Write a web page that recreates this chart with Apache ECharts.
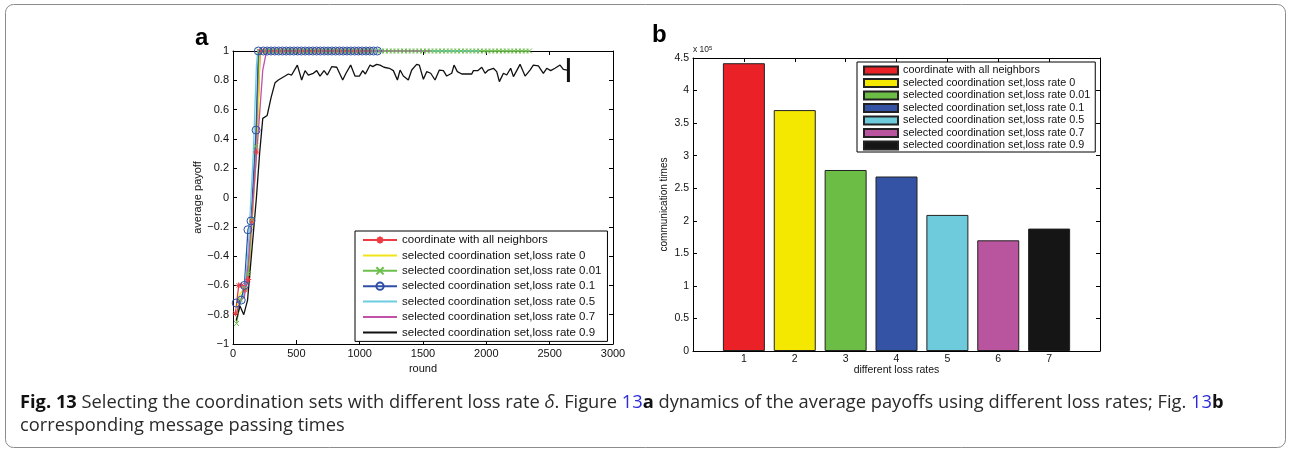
<!DOCTYPE html>
<html>
<head>
<meta charset="utf-8">
<script src="https://cdn.jsdelivr.net/npm/echarts@6/dist/echarts.min.js"></script>
<style>
  html, body { margin: 0; padding: 0; background: #fff; }
  #chart { width: 1291px; height: 451px; }
</style>
</head>
<body>
<div id="chart"></div>
<script>
// ---- panel a: average payoff per round ----
const lineNames = [
  'coordinate with all neighbors',
  'selected coordination set,loss rate 0',
  'selected coordination set,loss rate 0.01',
  'selected coordination set,loss rate 0.1',
  'selected coordination set,loss rate 0.5',
  'selected coordination set,loss rate 0.7',
  'selected coordination set,loss rate 0.9'
]

// rising part of each curve, [round, payoff]
const redRise = [[20, -0.79], [45, -0.60], [68, -0.60], [95, -0.63], [120, -0.56], [150, -0.16], [185, 0.31]]
const yellowRise = [[20, -0.80], [55, -0.66], [90, -0.62], [125, -0.50], [160, -0.05], [195, 0.45]]
const greenRise = [[28, -0.86], [60, -0.70], [90, -0.62], [120, -0.52], [150, -0.15], [180, 0.35]]
const blueRise = [[25, -0.72], [65, -0.70], [90, -0.60], [118, -0.22], [142, -0.16], [182, 0.46]]
const cyanRise = [[30, -0.76], [60, -0.72], [90, -0.65], [120, -0.35], [160, 0.30], [185, 0.90]]
const magentaRise = [[30, -0.78], [60, -0.70], [90, -0.68], [120, -0.45], [160, 0.0], [200, 0.45], [235, 0.87]]

// plateau at payoff 1: [first round, last round]
const redPlateau = [215, 1100]
const yellowPlateau = [212, 1100]
const greenPlateau = [205, 2350]
const bluePlateau = [200, 1140]
const cyanPlateau = [195, 1960]
const magentaPlateau = [265, 1560]

// rounds at which the plateau points were logged
const flatRounds = [240, 270, 300, 330, 360, 390, 420, 450, 480, 510, 540, 570, 600, 630, 660, 690,
  720, 750, 780, 810, 840, 870, 900, 930, 960, 990, 1020, 1050, 1080, 1110, 1140, 1170, 1200,
  1230, 1260, 1290, 1320, 1350, 1380, 1410, 1440, 1470, 1500, 1530, 1560, 1590, 1620, 1650,
  1680, 1710, 1740, 1770, 1800, 1830, 1860, 1890, 1920, 1950, 1980, 2010, 2040, 2070, 2100,
  2130, 2160, 2190, 2220, 2250, 2280, 2310, 2340]

// loss rate 0.9 never converges
const blackRounds = [25, 55, 85, 115, 140, 165, 185, 210, 235, 270, 300, 332, 358, 411, 437, 463, 508,
  542, 569, 595, 634, 661, 687, 719, 745, 779, 819, 866, 892, 929, 963, 998, 1024, 1045, 1082,
  1103, 1134, 1161, 1192, 1234, 1266, 1298, 1319, 1345, 1384, 1411, 1450, 1471, 1503, 1529,
  1561, 1595, 1629, 1661, 1687, 1727, 1745, 1771, 1806, 1845, 1885, 1898, 1932, 1964, 1990,
  2016, 2056, 2082, 2103, 2135, 2161, 2192, 2214, 2240, 2266, 2306, 2345, 2371, 2411, 2450,
  2477, 2508, 2542, 2582, 2608, 2640, 2648]
const blackPayoff = [-0.84, -0.74, -0.80, -0.70, -0.45, -0.20, 0.0, 0.30, 0.54, 0.56, 0.68, 0.784,
  0.802, 0.829, 0.843, 0.836, 0.904, 0.802, 0.866, 0.836, 0.848, 0.866, 0.829, 0.866, 0.836,
  0.893, 0.889, 0.802, 0.848, 0.904, 0.829, 0.829, 0.866, 0.843, 0.904, 0.893, 0.909, 0.904,
  0.889, 0.882, 0.866, 0.802, 0.870, 0.829, 0.802, 0.870, 0.909, 0.904, 0.807, 0.859, 0.848,
  0.802, 0.870, 0.866, 0.829, 0.848, 0.904, 0.859, 0.843, 0.843, 0.843, 0.866, 0.866, 0.889,
  0.848, 0.870, 0.882, 0.859, 0.791, 0.848, 0.836, 0.882, 0.825, 0.866, 0.909, 0.829, 0.870,
  0.904, 0.898, 0.848, 0.882, 0.866, 0.882, 0.904, 0.875, 0.870, 0.870]

// ---- panel b: communication times (x 10^5) ----
const lossRateIndex = [1, 2, 3, 4, 5, 6, 7]
const commTimes = [4.42, 3.70, 2.78, 2.68, 2.09, 1.70, 1.88]

const lineColors = ['#ee3b43', '#f3e31b', '#6dbf4b', '#2f4fa6', '#6ccde0', '#c050a8', '#111111']
const barColors = ['#ea2127', '#f5e800', '#6bbd45', '#3453a4', '#6ecbdc', '#b8559e', '#151515']
const FONT = 'Liberation Sans, Arial, sans-serif'
const CLEAR = 'rgba(0,0,0,0)'

function curve(rise, plateau) {
  const pts = rise.slice()
  pts.push([plateau[0], 1])
  flatRounds.forEach(r => { if (r > plateau[0] && r <= plateau[1]) pts.push([r, 1]) })
  return pts
}

const curves = [
  curve(redRise, redPlateau),
  curve(yellowRise, yellowPlateau),
  curve(greenRise, greenPlateau),
  curve(blueRise, bluePlateau),
  curve(cyanRise, cyanPlateau),
  curve(magentaRise, magentaPlateau)
]
const blackData = blackRounds.map((r, i) => [r, blackPayoff[i]])
// last logged point is drawn as a vertical bar
blackData[blackData.length - 1] = {
  value: blackData[blackData.length - 1], symbol: 'rect', symbolSize: [3, 24],
  itemStyle: { color: '#111', borderWidth: 0 }
}

const symbols = [
  'path://M0,5L10,5M5,0L5,10M1.5,1.5L8.5,8.5M8.5,1.5L1.5,8.5',
  null,
  'path://M0,0L10,10M10,0L0,10',
  'circle',
  null,
  null
]
const symbolSizes = [6, 0, 5, 8, 0, 0]

const lineSeries = curves.map((d, i) => ({
  name: lineNames[i],
  type: 'line',
  xAxisIndex: 0,
  yAxisIndex: 0,
  data: d,
  symbol: symbols[i] || 'circle',
  symbolSize: symbolSizes[i],
  showSymbol: !!symbols[i],
  clip: false,
  lineStyle: { color: lineColors[i], width: 1.3 },
  itemStyle: symbols[i]
    ? { color: CLEAR, borderColor: lineColors[i], borderWidth: 1 }
    : { color: CLEAR, borderColor: CLEAR, borderWidth: 0 },
  animation: false
}))
lineSeries.push({
  name: lineNames[6],
  type: 'line',
  xAxisIndex: 0,
  yAxisIndex: 0,
  data: blackData,
  symbol: 'circle',
  symbolSize: 0,
  showSymbol: true,
  clip: false,
  lineStyle: { color: lineColors[6], width: 1.3 },
  itemStyle: { color: CLEAR, borderColor: CLEAR, borderWidth: 0 },
  animation: false
})

const barSeries = lossRateIndex.map((x, i) => ({
  name: 'b:' + lineNames[i],
  type: 'bar',
  xAxisIndex: 2,
  yAxisIndex: 2,
  data: [[x, commTimes[i]]],
  barWidth: 42,
  barGap: '-100%',
  itemStyle: { color: barColors[i], borderColor: '#222', borderWidth: 1 },
  animation: false
}))

const tick = { inside: true, length: 4, lineStyle: { color: '#000', width: 1 } }
const axLine = { show: true, onZero: false, lineStyle: { color: '#000', width: 1 } }
const lbl = { color: '#111', fontFamily: FONT }
const nameStyle = size => ({ fontSize: size, color: '#111', fontFamily: FONT })

function fmtA(v) {
  const r = Math.round(v * 10) / 10
  return r < 0 ? '\u2212' + (-r) : String(r)
}

const chart = echarts.init(document.getElementById('chart'))
chart.setOption({
  backgroundColor: '#fff',
  animation: false,
  grid: [
    { left: 233, top: 51, width: 380, height: 293 },
    { left: 693, top: 58, width: 407, height: 293 }
  ],
  xAxis: [
    { gridIndex: 0, type: 'value', min: 0, max: 3000, interval: 500, position: 'bottom',
      axisLine: axLine, axisTick: tick, splitLine: { show: false },
      axisLabel: Object.assign({ fontSize: 11, margin: 4, formatter: v => String(v) }, lbl),
      name: 'round', nameLocation: 'middle', nameGap: 17, nameTextStyle: nameStyle(11) },
    { gridIndex: 0, type: 'value', min: 0, max: 3000, interval: 500, position: 'top',
      axisLine: axLine, axisTick: tick, splitLine: { show: false }, axisLabel: { show: false } },
    { gridIndex: 1, type: 'value', min: 0, max: 8, interval: 1, position: 'bottom',
      axisLine: axLine, axisTick: tick, splitLine: { show: false },
      axisLabel: Object.assign({ fontSize: 10.5, margin: 3,
        formatter: v => (v >= 1 && v <= 7 ? String(v) : '') }, lbl),
      name: 'different loss rates', nameLocation: 'middle', nameGap: 14, nameMoveOverlap: false,
      nameTextStyle: nameStyle(10.5) },
    { gridIndex: 1, type: 'value', min: 0, max: 8, interval: 1, position: 'top',
      axisLine: axLine, axisTick: tick, splitLine: { show: false }, axisLabel: { show: false } }
  ],
  yAxis: [
    { gridIndex: 0, type: 'value', min: -1, max: 1, interval: 0.2, position: 'left',
      axisLine: axLine, axisTick: tick, splitLine: { show: false },
      axisLabel: Object.assign({ fontSize: 11, margin: 4, formatter: fmtA }, lbl),
      name: 'average payoff', nameLocation: 'middle', nameGap: 30, nameRotate: 90,
      nameTextStyle: nameStyle(11) },
    { gridIndex: 0, type: 'value', min: -1, max: 1, interval: 0.2, position: 'right',
      axisLine: axLine, axisTick: tick, splitLine: { show: false }, axisLabel: { show: false } },
    { gridIndex: 1, type: 'value', min: 0, max: 4.5, interval: 0.5, position: 'left',
      axisLine: axLine, axisTick: tick, splitLine: { show: false },
      axisLabel: Object.assign({ fontSize: 10.5, margin: 4 }, lbl),
      name: 'communication times', nameLocation: 'middle', nameGap: 24, nameRotate: 90,
      nameTextStyle: nameStyle(10) },
    { gridIndex: 1, type: 'value', min: 0, max: 4.5, interval: 0.5, position: 'right',
      axisLine: axLine, axisTick: tick, splitLine: { show: false }, axisLabel: { show: false } }
  ],
  legend: [
    { data: lineNames, orient: 'vertical', left: 355, top: 231,
      itemWidth: 34, itemHeight: 9, itemGap: 3.4, padding: [3, 6, 3, 7],
      backgroundColor: '#fff', borderColor: '#000', borderWidth: 1, selectedMode: false,
      textStyle: { fontSize: 11.5, lineHeight: 12, color: '#111', fontFamily: FONT } },
    { data: lineNames.map(n => 'b:' + n), orient: 'vertical', left: 857, top: 62, icon: 'rect',
      itemWidth: 34, itemHeight: 8, itemGap: 1.5, padding: [3, 5, 1, 6],
      backgroundColor: '#fff', borderColor: '#000', borderWidth: 1, selectedMode: false,
      formatter: n => n.slice(2),
      textStyle: { fontSize: 10.8, lineHeight: 11, color: '#111', fontFamily: FONT } }
  ],
  graphic: [
    { type: 'rect', shape: { x: 5.5, y: 4.5, width: 1280, height: 443, r: 8 },
      style: { fill: 'none', stroke: '#8c8c8c', lineWidth: 1 }, silent: true },
    { type: 'text', left: 195, top: 26,
      style: { text: 'a', font: 'bold 24px ' + FONT, fill: '#000' } },
    { type: 'text', left: 652, top: 23,
      style: { text: 'b', font: 'bold 24px ' + FONT, fill: '#000' } },
    { type: 'text', left: 693, top: 45,
      style: { text: 'x 10{s|5}', font: '8.5px ' + FONT, fill: '#222',
        rich: { s: { fontSize: 6, verticalAlign: 'top', padding: [0, 0, 4, 0], fontFamily: FONT } } } },
    { type: 'text', left: 20, top: 391,
      style: {
        text: '{b|Fig. 13} Selecting the coordination sets with different loss rate {i|δ}. Figure {l|13}{b|a} dynamics of the average payoffs using different loss rates; Fig. {l|13}{b|b}\ncorresponding message passing times',
        font: '18.3px Open Sans, sans-serif', fill: '#2a2a2a', lineHeight: 23,
        rich: {
          b: { fontWeight: 'bold', fontSize: 18.3, fontFamily: 'Open Sans', fill: '#111', lineHeight: 23 },
          i: { fontStyle: 'italic', fontSize: 18.3, fontFamily: 'Open Sans', lineHeight: 23 },
          l: { fill: '#2b2bd9', fontSize: 18.3, fontFamily: 'Open Sans', lineHeight: 23 }
        }
      } }
  ],
  series: lineSeries.concat(barSeries)
})
</script>
</body>
</html>
